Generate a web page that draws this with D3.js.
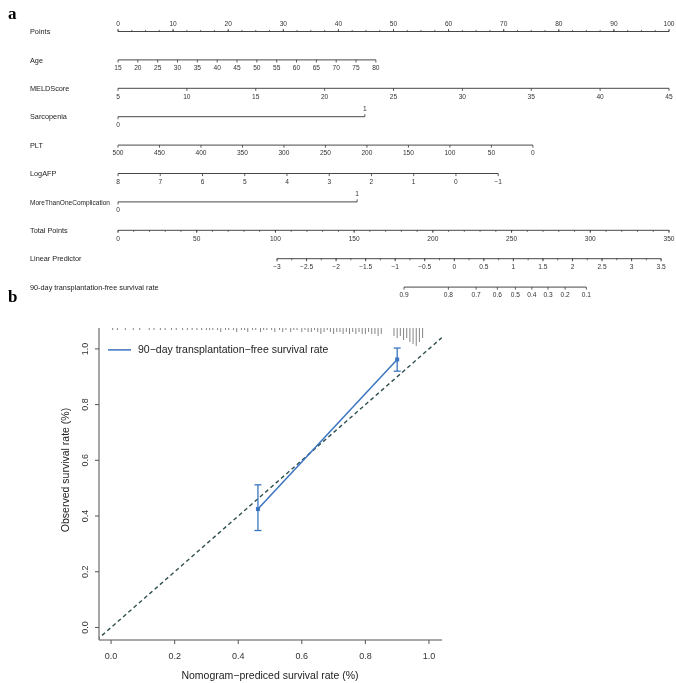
<!DOCTYPE html>
<html><head><meta charset="utf-8">
<script src="https://cdn.jsdelivr.net/npm/d3@7/dist/d3.min.js"></script>
<style>
body{margin:0;background:#fff}
svg{will-change:transform;-webkit-font-smoothing:antialiased}
text{font-family:"Liberation Sans",Arial,sans-serif;fill:#222}
</style>
</head><body>
<svg id="c" width="676" height="683"></svg>
<script>
// ---------- Panel a: nomogram data ----------
const rowLabels = ["Points","Age","MELDScore","Sarcopenia","PLT","LogAFP","MoreThanOneComplication","Total Points","Linear Predictor","90-day transplantation-free survival rate"];
const pointTicks = [0,10,20,30,40,50,60,70,80,90,100];
const ageTicks = [15,20,25,30,35,40,45,50,55,60,65,70,75,80];
const ageDomain = [15,80], agePoints = [0,46.8];
const meldTicks = [5,10,15,20,25,30,35,40,45];
const meldDomain = [5,45], meldPoints = [0,100];
const sarcTicks = [0,1];
const sarcDomain = [0,1], sarcPoints = [0,44.8];
const pltTicks = [500,450,400,350,300,250,200,150,100,50,0];
const pltDomain = [500,0], pltPoints = [0,75.3];
const afpTicks = [8,7,6,5,4,3,2,1,0,-1];
const afpDomain = [8,-1], afpPoints = [0,69];
const compTicks = [0,1];
const compDomain = [0,1], compPoints = [0,43.4];
const totalTicks = [0,50,100,150,200,250,300,350];
const lpTicks = [-3,-2.5,-2,-1.5,-1,-0.5,0,0.5,1,1.5,2,2.5,3,3.5];
const lpAtTotal = [[-3,101],[3.5,345]];   // linear predictor vs total points
const survTicks = [0.9,0.8,0.7,0.6,0.5,0.4,0.3,0.2,0.1];
const survShift = 1.40;  // log(-log S0) offset: S = S0^exp(lp)

// ---------- Panel b: calibration data ----------
const calPred = [0.462, 0.900];
const calObs  = [0.425, 0.962];
const calLow  = [0.348, 0.920];
const calHigh = [0.512, 1.003];
const rugPred = [0.005,0.02,0.045,0.07,0.09,0.12,0.135,0.155,0.17,0.19,0.205,0.225,0.24,0.255,0.27,0.285,0.30,
  0.31,0.32,0.335,0.345,0.36,0.37,0.385,0.395,0.41,0.42,0.43,0.445,0.455,0.47,0.48,0.49,0.505,0.515,0.53,0.54,0.55,0.565,0.575,0.585,
  0.60,0.61,0.62,0.63,0.64,0.65,0.66,0.67,0.68,0.69,0.70,0.71,0.72,0.73,0.74,0.75,0.76,0.77,0.78,0.79,0.80,0.81,0.82,0.83,0.84,0.85,
  0.89,0.90,0.91,0.92,0.93,0.94,0.95,0.96,0.97,0.98];
const rugCount = [1,1,1,1,1,1,1,1,1,1,1,1,1,1,1,1,1,
  1,1,1,2,1,1,1,2,1,1,2,1,1,2,1,1,1,2,1,2,1,2,1,1,
  2,1,2,2,1,2,3,2,1,2,3,2,2,3,2,3,2,3,2,3,3,2,3,3,4,3,
  4,5,4,6,5,7,8,9,7,5];
const legendLabel = "90\u2212day transplantation\u2212free survival rate";

const svg = d3.select("#c");
svg.append("rect").attr("width",676).attr("height",683).attr("fill","#fff");

// panel letters
svg.append("text").attr("x",8).attr("y",19).text("a")
  .style("font-family","'Liberation Serif','Times New Roman',serif").style("font-weight","bold").style("font-size","17px").style("fill","#000");
svg.append("text").attr("x",8).attr("y",302).text("b")
  .style("font-family","'Liberation Serif','Times New Roman',serif").style("font-weight","bold").style("font-size","17px").style("fill","#000");

// ---------- nomogram ----------
const px = d3.scaleLinear().domain([0,100]).range([118,669]);
const totalX = d3.scaleLinear().domain([0,350]).range([118,669]);
const lpTot = d3.scaleLinear().domain(lpAtTotal.map(d=>d[0])).range(lpAtTotal.map(d=>d[1]));
const lpX = v => totalX(lpTot(v));
const survX = s => lpX(Math.log(-Math.log(s)) + survShift);
const rowY = i => 31.5 + i*28.4;
const LC = "#333";
const g = svg.append("g");

rowLabels.forEach((t,i)=>{
  const el = g.append("text").attr("x",30).attr("y",rowY(i)+2.6).text(t).style("font-size","7.3px");
  if (i === 6 && el.node().getComputedTextLength() > 80) el.attr("textLength",80).attr("lengthAdjust","spacingAndGlyphs");
});

function drawRow(i, xf, ticks, side, minor, labelFmt){
  const y = rowY(i);
  const xs = ticks.map(xf);
  const lo = d3.min(xs), hi = d3.max(xs);
  g.append("line").attr("x1",lo).attr("x2",hi).attr("y1",y).attr("y2",y).attr("stroke",LC).attr("stroke-width",0.9);
  const dir = side==="above" ? -1 : 1;
  if(minor){
    minor.forEach(v=>{
      g.append("line").attr("x1",xf(v)).attr("x2",xf(v)).attr("y1",y).attr("y2",y+dir*1.6).attr("stroke",LC).attr("stroke-width",0.7);
    });
  }
  ticks.forEach((v,k)=>{
    const s = Array.isArray(side) ? side[k] : side;
    const d = s==="above" ? -1 : 1;
    const x = xf(v);
    g.append("line").attr("x1",x).attr("x2",x).attr("y1",y).attr("y2",y+d*2.6).attr("stroke",LC).attr("stroke-width",0.8);
    g.append("text").attr("x",x).attr("y", d<0 ? y-5.5 : y+10.3).attr("text-anchor","middle")
      .text(labelFmt ? labelFmt(v) : String(v).replace("-","\u2212")).style("font-size","6.6px").style("fill","#333");
  });
}
const varX = (domain, pts) => { const s = d3.scaleLinear().domain(domain).range(pts); return v => px(s(v)); };

drawRow(0, px, pointTicks, "above", d3.range(0,100.01,2.5));
drawRow(1, varX(ageDomain,agePoints), ageTicks, "below");
drawRow(2, varX(meldDomain,meldPoints), meldTicks, "below");
drawRow(3, varX(sarcDomain,sarcPoints), sarcTicks, ["below","above"]);
drawRow(4, varX(pltDomain,pltPoints), pltTicks, "below");
drawRow(5, varX(afpDomain,afpPoints), afpTicks, "below");
drawRow(6, varX(compDomain,compPoints), compTicks, ["below","above"]);
drawRow(7, totalX, totalTicks, "below", d3.range(0,350.01,10));
drawRow(8, lpX, lpTicks, "below", d3.range(-3,3.501,0.25));
drawRow(9, survX, survTicks, "below", null, v=>v.toFixed(1));

// ---------- calibration plot ----------
const xs = d3.scaleLinear().domain([-0.038,1.041]).range([99,442]);
const ys = d3.scaleLinear().domain([-0.045,1.075]).range([640,328]);
const b = svg.append("g");
const AX = "#555";

// rug / spike histogram at top
const hScale = d3.scaleLinear().domain([0, d3.max(rugCount)]).range([0,18]);
rugPred.forEach((p,k)=>{
  b.append("line").attr("x1",xs(p)).attr("x2",xs(p)).attr("y1",ys(1.075)).attr("y2",ys(1.075)+hScale(rugCount[k]))
   .attr("stroke","#777").attr("stroke-width",0.9);
});

// ideal line
const clipId="clipb";
svg.append("clipPath").attr("id",clipId).append("rect").attr("x",99).attr("y",328).attr("width",343).attr("height",312);
b.append("line").attr("clip-path",`url(#${clipId})`)
  .attr("x1",xs(-0.045)).attr("y1",ys(-0.045)).attr("x2",xs(1.04)).attr("y2",ys(1.04))
  .attr("stroke","#2f4f4f").attr("stroke-width",1.4).attr("stroke-dasharray","4,3");

// calibration line
const BL = "#3a74c0";
b.append("path").datum(calPred.map((p,k)=>[p,calObs[k]]))
  .attr("d", d3.line().x(d=>xs(d[0])).y(d=>ys(d[1])))
  .attr("fill","none").attr("stroke",BL).attr("stroke-width",1.5);
calPred.forEach((p,k)=>{
  const x = xs(p);
  b.append("line").attr("x1",x).attr("x2",x).attr("y1",ys(calLow[k])).attr("y2",ys(calHigh[k])).attr("stroke",BL).attr("stroke-width",1.3);
  [calLow[k],calHigh[k]].forEach(v=>{
    b.append("line").attr("x1",x-3.5).attr("x2",x+3.5).attr("y1",ys(v)).attr("y2",ys(v)).attr("stroke",BL).attr("stroke-width",1.3);
  });
  b.append("rect").attr("x",x-2).attr("y",ys(calObs[k])-2).attr("width",4).attr("height",4).attr("fill",BL);
});

// axes
b.append("line").attr("x1",99).attr("x2",99).attr("y1",328).attr("y2",640).attr("stroke","#777").attr("stroke-width",1.3);
b.append("line").attr("x1",99).attr("x2",442).attr("y1",640).attr("y2",640).attr("stroke",AX).attr("stroke-width",1);
const bt = [0,0.2,0.4,0.6,0.8,1.0];
bt.forEach(v=>{
  b.append("line").attr("x1",95).attr("x2",99).attr("y1",ys(v)).attr("y2",ys(v)).attr("stroke",AX);
  b.append("text").attr("transform",`translate(88,${ys(v)}) rotate(-90)`).attr("text-anchor","middle")
    .text(v.toFixed(1)).style("font-size","9px").style("fill","#333");
  b.append("line").attr("x1",xs(v)).attr("x2",xs(v)).attr("y1",640).attr("y2",644).attr("stroke",AX);
  b.append("text").attr("x",xs(v)).attr("y",659).attr("text-anchor","middle")
    .text(v.toFixed(1)).style("font-size","9px").style("fill","#333");
});
b.append("text").attr("x",270).attr("y",679).attr("text-anchor","middle")
  .text("Nomogram\u2212prediced survival rate (%)").style("font-size","10.5px").style("fill","#222");
b.append("text").attr("transform","translate(69,470) rotate(-90)").attr("text-anchor","middle")
  .text("Observed survival rate (%)").style("font-size","10.5px").style("fill","#222");

// legend
b.append("line").attr("x1",108).attr("x2",131).attr("y1",ys(1.0)+1).attr("y2",ys(1.0)+1).attr("stroke",BL).attr("stroke-width",1.5);
b.append("text").attr("x",138).attr("y",ys(1.0)+4.5).text(legendLabel).style("font-size","10.5px").style("fill","#222");
</script>
</body></html>
